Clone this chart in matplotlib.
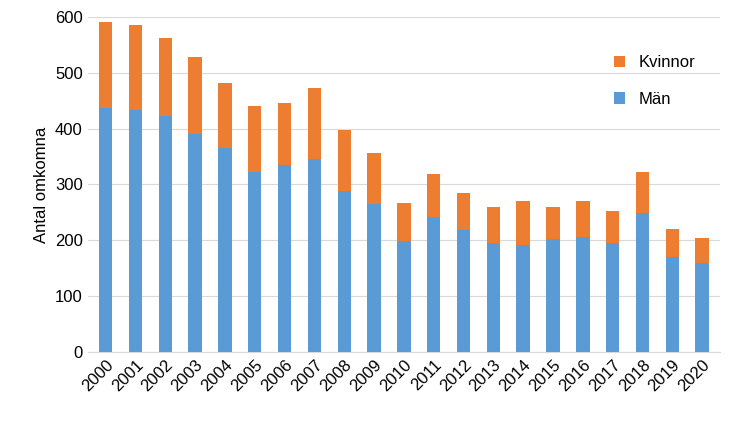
import matplotlib
matplotlib.use("Agg")
import matplotlib.pyplot as plt

years = [str(y) for y in range(2000, 2021)]
man = [437, 434, 423, 391, 366, 323, 334, 345, 288, 265, 199, 242, 219, 195, 192, 202, 206, 195, 249, 170, 159]
total = [591, 585, 562, 529, 481, 440, 446, 472, 397, 357, 267, 318, 285, 259, 270, 260, 270, 253, 323, 220, 204]
kvinnor = [t - m for t, m in zip(total, man)]

plt.rcParams["font.family"] = "Liberation Sans"
fig = plt.figure(figsize=(7.31, 4.28), dpi=100)
ax = fig.add_axes([0.12, 0.1776, 0.865, 0.783])
x = range(len(years))
ax.bar(x, man, width=0.45, color="#5B9BD5", label="Män", zorder=3)
ax.bar(x, kvinnor, bottom=man, width=0.45, color="#ED7D31", label="Kvinnor", zorder=3)
ax.set_ylim(0, 600)
ax.set_xlim(-0.6, len(years) - 0.4)
ax.set_yticks(range(0, 601, 100))
ax.grid(axis="y", color="#D9D9D9", lw=0.8, zorder=0)
ax.set_xticks(list(x))
ax.set_xticklabels(years, rotation=45, ha="right", rotation_mode="anchor", fontsize=12)
ax.tick_params(axis="y", labelsize=12, length=0)
ax.tick_params(axis="x", length=0)
for s in ["top", "right", "left"]:
    ax.spines[s].set_visible(False)
ax.spines["bottom"].set_color("#D9D9D9")
ax.set_ylabel("Antal omkomna", fontsize=12)
h, l = ax.get_legend_handles_labels()
ax.legend(h[::-1], l[::-1], loc="upper right", bbox_to_anchor=(0.985, 0.93), frameon=False,
          fontsize=12, handlelength=0.7, handleheight=0.7, labelspacing=1.3)
fig.savefig("out.png", dpi=100)
